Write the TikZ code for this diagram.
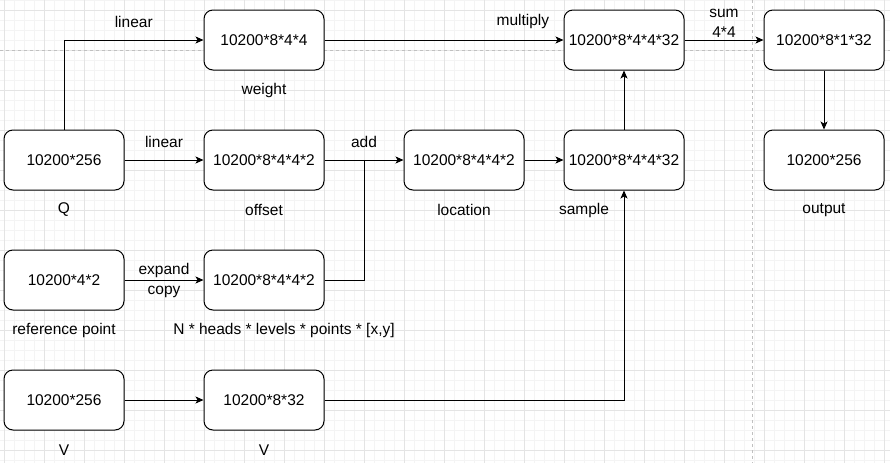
\documentclass[tikz,border=0pt]{standalone}
\usepackage{fontspec}
\setmainfont{Liberation Sans}
\usetikzlibrary{positioning}
\usetikzlibrary{arrows.meta}
\definecolor{gridmajor}{HTML}{E4E4E4}
\definecolor{gridminor}{HTML}{F4F4F4}
\definecolor{pagebreak}{HTML}{C0C0C0}
\tikzset{
    x=1pt, y=-1pt,
    every node/.append style={font=\fontsize{15.5}{18}\selectfont},
    tensor/.style={draw, line width=1pt, rounded corners=9pt, minimum width=120pt, minimum height=60pt, inner sep=0pt, fill=white},
    caption/.style={inner sep=1pt},
    flow/.style={-{Stealth[length=8pt,width=7pt,inset=2pt]}, line width=1pt},
    merge/.style={line width=1pt}
}
\begin{document}
\begin{tikzpicture}
\useasboundingbox (0,0) rectangle (890,463);
\fill[white] (0,0) rectangle (890,463);
% grid
\foreach \gx in {4,14,...,890} \draw[gridminor, line width=0.6pt] (\gx,0) -- (\gx,463);
\foreach \gy in {0,10,...,463} \draw[gridminor, line width=0.6pt] (0,\gy) -- (890,\gy);
\foreach \gx in {4,44,...,890} \draw[gridmajor, line width=1pt] (\gx,0) -- (\gx,463);
\foreach \gy in {10,50,...,463} \draw[gridmajor, line width=1pt] (0,\gy) -- (890,\gy);
\draw[pagebreak, dashed, line width=0.8pt] (0,50) -- (890,50);
\draw[pagebreak, dashed, line width=0.8pt] (752,0) -- (752,463);

% boxes
\node[tensor] (weight) at (264,40) {10200*8*4*4};
\node[tensor] (mult) at (624,40) {10200*8*4*4*32};
\node[tensor] (summed) at (824,40) {10200*8*1*32};
\node[tensor] (Q) at (64,160) {10200*256};
\node[tensor] (offset) at (264,160) {10200*8*4*4*2};
\node[tensor] (loc) at (464,160) {10200*8*4*4*2};
\node[tensor] (samp) at (624,160) {10200*8*4*4*32};
\node[tensor] (out) at (824,160) {10200*256};
\node[tensor] (ref) at (64,280) {10200*4*2};
\node[tensor] (refexp) at (264,280) {10200*8*4*4*2};
\node[tensor] (V) at (64,400) {10200*256};
\node[tensor] (Vproj) at (264,400) {10200*8*32};
\coordinate (addpt) at (364,160);

% captions
\node[caption] (weightlbl) at (264,90) {weight};
\node[caption] (Qlbl) at (64,210) {Q};
\node[caption] (offsetlbl) at (264,210) {offset};
\node[caption] (loclbl) at (464,210) {location};
\node[caption] (samplbl) at (584,210) {sample};
\node[caption] (outlbl) at (824,210) {output};
\node[caption] (reflbl) at (64,330) {reference point};
\node[caption] (shapelbl) at (284,330) {N * heads * levels * points * [x,y]};
\node[caption] (Vlbl) at (64,450) {V};
\node[caption] (Vprojlbl) at (264,450) {V};

% connectors
\draw[flow] (Q.north) |- (weight.west) node[pos=0.75, above=9pt] {linear};
\draw[flow] (Q) -- (offset) node[midway, above=9pt] {linear};
\draw[flow] (weight) -- (mult) node[pos=0.83, above=7pt] {multiply};
\draw[flow] (offset) -- (loc) node[midway, above=9pt] {add};
\draw[merge] (refexp.east) -| (addpt);
\draw[flow] (loc) -- (samp);
\draw[flow] (samp) -- (mult);
\draw[flow] (mult) -- (summed) node[midway, above=-1pt, align=center, font=\fontsize{15.5}{20}\selectfont] {sum\\4*4};
\draw[flow] (summed) -- (out);
\draw[flow] (ref) -- (refexp) node[midway, align=center, font=\fontsize{15.5}{20}\selectfont] {expand\\copy};
\draw[flow] (V) -- (Vproj);
\draw[flow] (Vproj.east) -| (samp.south);
\end{tikzpicture}
\end{document}
